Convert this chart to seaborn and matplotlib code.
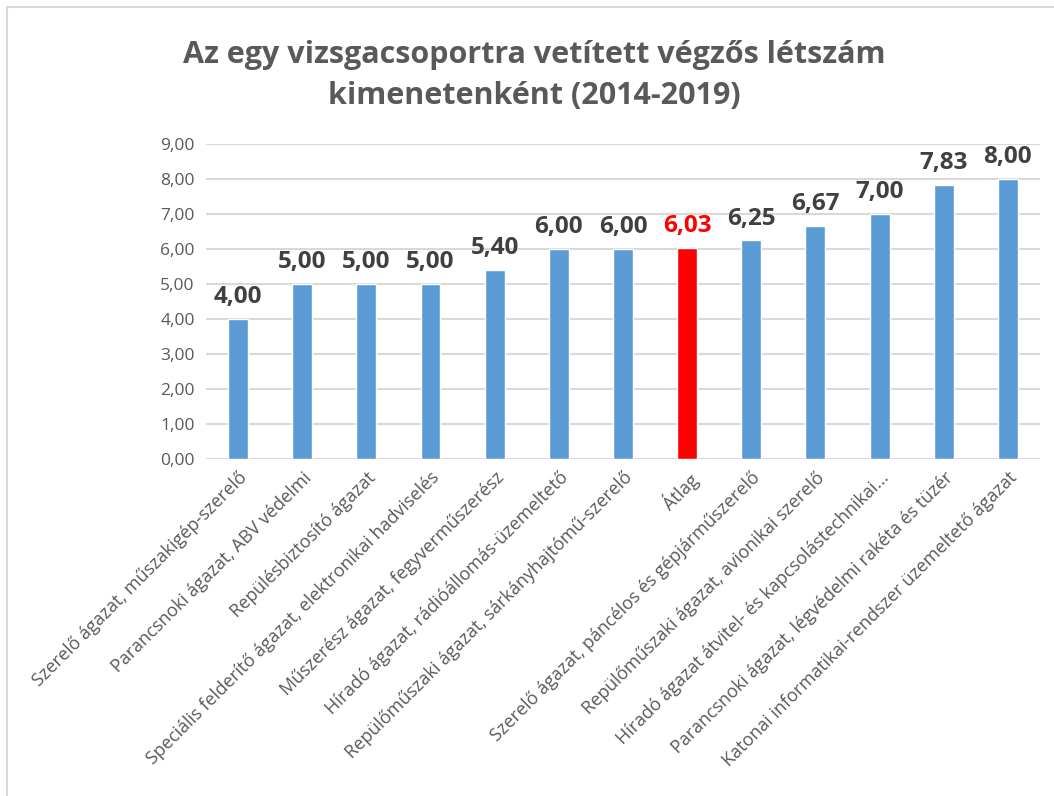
import numpy as np
import pandas as pd
import matplotlib.pyplot as plt
import seaborn as sns
from matplotlib.lines import Line2D

categories = [
    'Szerelő ágazat, műszakigép-szerelő',
    'Parancsnoki ágazat, ABV védelmi',
    'Repülésbiztosító ágazat',
    'Speciális felderítő ágazat, elektronikai hadviselés',
    'Műszerész ágazat, fegyverműszerész',
    'Híradó ágazat, rádióállomás-üzemeltető',
    'Repülőműszaki ágazat, sárkányhajtómű-szerelő',
    'Átlag',
    'Szerelő ágazat, páncélos és gépjárműszerelő',
    'Repülőműszaki ágazat, avionikai szerelő',
    'Híradó ágazat átvitel- és kapcsolástechnikai...',
    'Parancsnoki ágazat, légvédelmi rakéta és tüzér',
    'Katonai informatikai-rendszer üzemeltető ágazat',
]
values = [4.00, 5.00, 5.00, 5.00, 5.40, 6.00, 6.00, 6.03, 6.25, 6.67, 7.00, 7.83, 8.00]
highlight = 'Átlag'
title = 'Az egy vizsgacsoportra vetített végzős létszám\nkimenetenként (2014-2019)'

df = pd.DataFrame({'kimenet': categories, 'letszam': values})
blue = '#5B9BD5'
red = '#FF0000'
palette = {c: (red if c == highlight else blue) for c in categories}

sns.set_style('white')
plt.rcParams['font.family'] = ['Open Sans', 'DejaVu Sans']

fig = plt.figure(figsize=(10.54, 7.96), dpi=100)
ax = fig.add_axes([0.1954, 0.4234, 0.7913, 0.3957])

sns.barplot(data=df, x='kimenet', y='letszam', hue='kimenet', palette=palette,
            width=0.31, legend=False, ax=ax, saturation=1)

ax.set_ylim(0, 9)
ax.set_xlim(-0.5, len(categories) - 0.5)
ax.set_yticks(np.arange(0, 10, 1))
ax.set_yticklabels([f'{v:.2f}'.replace('.', ',') for v in np.arange(0, 10, 1)],
                   fontsize=12.5, color='#595959')
ax.set_xticks(range(len(categories)))
ax.set_xticklabels(categories, rotation=45, ha='right', rotation_mode='anchor',
                   fontsize=13, color='#595959')
ax.tick_params(axis='y', length=0, pad=8)
ax.tick_params(axis='x', length=0, pad=7)
ax.yaxis.grid(True, color='#D9D9D9', linewidth=1.5)
ax.set_axisbelow(True)
for s in ax.spines.values():
    s.set_visible(False)
ax.set_xlabel('')
ax.set_ylabel('')

for i, (c, v) in enumerate(zip(categories, values)):
    ax.annotate(f'{v:.2f}'.replace('.', ','), (i, v), xytext=(0, 7),
                textcoords='offset points', ha='center', va='bottom',
                fontsize=17.5, fontweight='bold',
                color=(red if c == highlight else '#404040'))

fig.text(0.507, 0.905, title, ha='center', va='center', fontsize=22,
         fontweight='bold', color='#595959', linespacing=1.5)

# chart frame (top and left edges visible)
fig.add_artist(Line2D([7 / 1054, 1], [1 - 7 / 796] * 2, transform=fig.transFigure,
                      color='#D9D9D9', linewidth=1.5))
fig.add_artist(Line2D([7 / 1054] * 2, [0, 1 - 7 / 796], transform=fig.transFigure,
                      color='#D9D9D9', linewidth=1.5))

fig.savefig('out.png', dpi=100, facecolor='white')
